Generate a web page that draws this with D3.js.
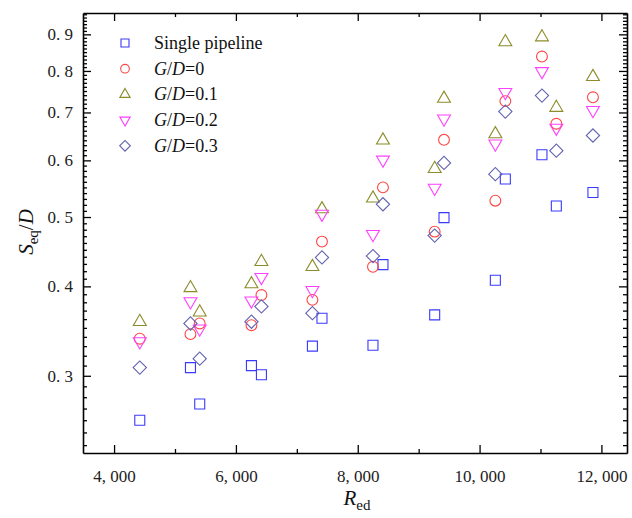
<!DOCTYPE html>
<html>
<head>
<meta charset="utf-8">
<script src="https://cdn.jsdelivr.net/npm/d3@7"></script>
<style>
  body { margin: 0; background: #fff; }
  svg, svg text { font-family: "Liberation Serif", "Times New Roman", Times, "DejaVu Serif", serif; }
</style>
</head>
<body>
<svg id="chart" width="632" height="518"></svg>
<script>
// Reynolds numbers shared by all series
const reynolds = [4422, 5254, 5406, 6255, 6419, 7256, 7413, 8250, 8414, 9263, 9416, 10259, 10423, 11024, 11260, 11861];

// Seq/D values
const singlePipe = [0.260, 0.308, 0.274, 0.310, 0.301, 0.330, 0.361, 0.331, 0.429, 0.365, 0.499, 0.408, 0.565, 0.611, 0.518, 0.541];
const gd0  = [0.338, 0.343, 0.355, 0.353, 0.389, 0.383, 0.462, 0.426, 0.550, 0.477, 0.641, 0.527, 0.726, 0.838, 0.675, 0.735];
const gd01 = [0.357, 0.398, 0.368, 0.403, 0.433, 0.426, 0.513, 0.531, 0.640, 0.584, 0.732, 0.653, 0.878, 0.892, 0.711, 0.785];
const gd02 = [0.335, 0.381, 0.349, 0.382, 0.412, 0.395, 0.505, 0.473, 0.601, 0.549, 0.686, 0.633, 0.747, 0.799, 0.666, 0.705];
const gd03 = [0.308, 0.355, 0.317, 0.357, 0.375, 0.367, 0.439, 0.441, 0.521, 0.471, 0.595, 0.574, 0.702, 0.739, 0.619, 0.650];

const xTicks = [4000, 6000, 8000, 10000, 12000];
const xMinor = [5000, 7000, 9000, 11000];
const yTicks = [0.3, 0.4, 0.5, 0.6, 0.7, 0.8, 0.9];

const series = [
  { name: "Single pipeline", values: singlePipe, shape: "square", color: "#3a3aff" },
  { name: "0",   values: gd0,  shape: "circle",   color: "#ff4545" },
  { name: "0.1", values: gd01, shape: "triangle", color: "#8c8c2a" },
  { name: "0.2", values: gd02, shape: "invtri",   color: "#ff40ff" },
  { name: "0.3", values: gd03, shape: "diamond",  color: "#6262b0" }
];

const FONT = '"Liberation Serif", "Times New Roman", Times, "DejaVu Serif", serif';
const svg = d3.select("#chart");
const plotL = 83, plotT = 13, plotR = 627, plotB = 453;

const x = d3.scaleLinear().domain([3490, 12420]).range([plotL, plotR]);
const y = d3.scaleLog().domain([0.234, 0.964]).range([plotB, plotT]);

// Marker path for each shape
function markerPath(shape, scale) {
  const k = scale || 1;
  if (shape === "square") return d3.symbol(d3.symbolSquare, 100 * k * k)();
  if (shape === "circle") return d3.symbol(d3.symbolCircle, 92 * k * k)();
  if (shape === "triangle" || shape === "invtri") return d3.symbol(d3.symbolTriangle, 72 * k * k)();
  return d3.symbol(d3.symbolSquare, 88 * k * k)(); // diamond = rotated square
}
function markerRotate(shape) {
  if (shape === "invtri") return 180;
  if (shape === "diamond") return 45;
  return 0;
}

// minor y ticks every 0.01
const yMinor = d3.range(24, 97).map(d => d / 100).filter(v => !yTicks.some(t => Math.abs(t - v) < 1e-6) && v >= 0.234 && v <= 0.964);

// axes (ticks pointing inward)
const fmtX = d3.format(",");
svg.append("g")
  .attr("transform", `translate(0,${plotB})`)
  .call(d3.axisBottom(x).tickValues(xTicks).tickSizeInner(-8).tickSizeOuter(0).tickFormat(d => fmtX(d).replace(",", ", ")))
  .call(g => g.attr("font-family", FONT).attr("font-size", 17))
  .call(g => g.selectAll("text").attr("dy", "1.5em"));
svg.append("g")
  .attr("transform", `translate(0,${plotB})`)
  .call(d3.axisBottom(x).tickValues(xMinor).tickSizeInner(-4).tickSizeOuter(0).tickFormat(""))
  .call(g => g.select(".domain").remove());
svg.append("g")
  .attr("transform", `translate(0,${plotT})`)
  .call(d3.axisTop(x).tickValues(xTicks).tickSizeInner(-8).tickSizeOuter(0).tickFormat(""));
svg.append("g")
  .attr("transform", `translate(0,${plotT})`)
  .call(d3.axisTop(x).tickValues(xMinor).tickSizeInner(-4).tickSizeOuter(0).tickFormat(""))
  .call(g => g.select(".domain").remove());

svg.append("g")
  .attr("transform", `translate(${plotL},0)`)
  .call(d3.axisLeft(y).tickValues(yTicks).tickSizeInner(-8).tickSizeOuter(0).tickFormat(d => d3.format(".1f")(d).replace(".", ". ")))
  .call(g => g.attr("font-family", FONT).attr("font-size", 17))
  .call(g => g.selectAll("text").attr("x", -10));
svg.append("g")
  .attr("transform", `translate(${plotL},0)`)
  .call(d3.axisLeft(y).tickValues(yMinor).tickSizeInner(-4).tickSizeOuter(0).tickFormat(""))
  .call(g => g.select(".domain").remove());
svg.append("g")
  .attr("transform", `translate(${plotR},0)`)
  .call(d3.axisRight(y).tickValues(yTicks).tickSizeInner(-8).tickSizeOuter(0).tickFormat(""));
svg.append("g")
  .attr("transform", `translate(${plotR},0)`)
  .call(d3.axisRight(y).tickValues(yMinor).tickSizeInner(-4).tickSizeOuter(0).tickFormat(""))
  .call(g => g.select(".domain").remove());

svg.selectAll(".domain").attr("stroke", "#000").attr("stroke-width", 1.6);
svg.selectAll(".tick line").attr("stroke", "#000").attr("stroke-width", 1.3);
svg.selectAll(".tick text").attr("fill", "#222");

// data points
series.forEach(s => {
  svg.append("g").selectAll("path")
    .data(s.values.map((v, i) => ({ re: reynolds[i], v })))
    .enter()
    .append("path")
    .attr("d", markerPath(s.shape))
    .attr("transform", d => `translate(${x(d.re)},${y(d.v)}) rotate(${markerRotate(s.shape)})`)
    .attr("fill", "none")
    .attr("stroke", s.color)
    .attr("stroke-width", 1.1);
});

// legend
const legend = svg.append("g").attr("font-family", FONT);
series.forEach((s, i) => {
  const ly = 43 + i * 25.7;
  legend.append("path")
    .attr("d", markerPath(s.shape, 0.8))
    .attr("transform", `translate(125,${ly}) rotate(${markerRotate(s.shape)})`)
    .attr("fill", "none")
    .attr("stroke", s.color)
    .attr("stroke-width", 1.1);
  const t = legend.append("text")
    .attr("x", 154)
    .attr("y", ly + 6)
    .attr("font-size", 18)
    .attr("fill", "#111");
  if (i === 0) {
    t.text(s.name);
  } else {
    t.append("tspan").attr("font-style", "italic").text("G");
    t.append("tspan").text("/");
    t.append("tspan").attr("font-style", "italic").text("D");
    t.append("tspan").text("=" + s.name);
  }
});

// axis titles
const xt = svg.append("text")
  .attr("x", 357)
  .attr("y", 505)
  .attr("text-anchor", "middle")
  .attr("font-family", FONT)
  .attr("font-size", 21)
  .attr("fill", "#111");
xt.append("tspan").attr("font-style", "italic").text("R");
xt.append("tspan").attr("dy", 5).attr("font-size", 15).text("ed");

const yt = svg.append("text")
  .attr("transform", "translate(33,232) rotate(-90)")
  .attr("text-anchor", "middle")
  .attr("font-family", FONT)
  .attr("font-size", 21)
  .attr("fill", "#111");
yt.append("tspan").attr("font-style", "italic").text("S");
yt.append("tspan").attr("dy", 5).attr("font-size", 15).text("eq");
yt.append("tspan").attr("dy", -5).text("/");
yt.append("tspan").attr("font-style", "italic").text("D");
</script>
</body>
</html>
